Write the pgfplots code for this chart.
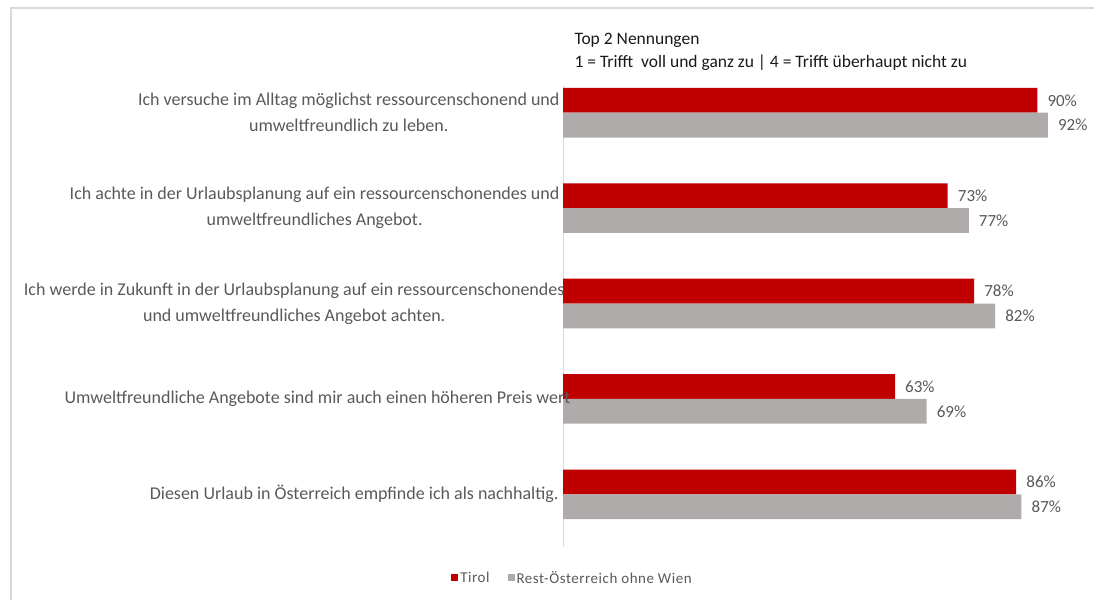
\documentclass[border=0pt]{standalone}
\usepackage{fontspec}
\setmainfont{Carlito}
\usepackage{pgfplots}
\pgfplotsset{compat=1.18}
\definecolor{tred}{HTML}{C00000}
\definecolor{rgray}{HTML}{AFABAB}
\definecolor{lab}{HTML}{595959}
\definecolor{framec}{HTML}{D9D9D9}
\begin{document}
\begin{tikzpicture}[x=1pt,y=1pt]
\useasboundingbox (0,0) rectangle (1094,600);
\draw[framec, line width=1.5pt] (11,0) -- (11,592) -- (1094,592);
\node[anchor=base west, font=\fontsize{17.5}{20}\selectfont, text=black!90] at (571,555) {Top 2 Nennungen};
\node[anchor=base west, font=\fontsize{17.5}{20}\selectfont, text=black!90] at (571,532) {1 = Trifft\ \ voll und ganz zu | 4 = Trifft überhaupt nicht zu};
\begin{axis}[
  at={(563pt,58pt)}, anchor=south west, scale only axis,
  width=527pt, height=477pt,
  xbar, bar width=0.26,
  xmin=0, xmax=100, ymin=0.5, ymax=5.5, y dir=reverse,
  hide axis, clip=false,
  /pgf/number format/assume math mode=true,
  nodes near coords={\pgfmathprintnumber{\pgfplotspointmeta}\%},
  every node near coord/.append style={font=\fontsize{17}{20}\selectfont, text=lab, anchor=west, inner sep=0pt, xshift=10pt},
  legend style={at={(axis description cs:0.018,-0.0755)}, anchor=center, draw=none, fill=none,
    legend columns=2, font=\fontsize{15}{18}\selectfont\addfontfeature{LetterSpace=3.5}, text=lab,
    /tikz/every even column/.append style={column sep=16pt}},
  legend image code/.code={\fill[#1] (0pt,-3pt) rectangle (7pt,4pt);},
]
\draw[framec, line width=1pt] (axis cs:0,0.72) -- (axis cs:0,5.55);
\addplot[fill=tred, draw=none, bar shift=-0.13] coordinates {(90,1) (73,2) (78,3) (63,4) (86,5)};
\addplot[fill=rgray, draw=none, bar shift=0.13] coordinates {(92,1) (77,2) (82,3) (69,4) (87,5)};
\legend{Tirol, Rest-Österreich ohne Wien}
\begin{scope}[every node/.style={anchor=east, align=center, text=lab, font=\fontsize{18}{26}\selectfont}]
\node[xshift=0pt] at (axis cs:0,1) {Ich versuche im Alltag möglichst ressourcenschonend und\\umweltfreundlich zu leben.};
\node[xshift=0pt] at (axis cs:0,2) {Ich achte in der Urlaubsplanung auf ein ressourcenschonendes und\\umweltfreundliches Angebot.};
\node[xshift=5pt] at (axis cs:0,3) {Ich werde in Zukunft in der Urlaubsplanung auf ein ressourcenschonendes\\und umweltfreundliches Angebot achten.};
\node[xshift=11pt] at (axis cs:0,4) {Umweltfreundliche Angebote sind mir auch einen höheren Preis wert};
\node[xshift=-1pt] at (axis cs:0,5) {Diesen Urlaub in Österreich empfinde ich als nachhaltig.};
\end{scope}
\end{axis}
\end{tikzpicture}
\end{document}
